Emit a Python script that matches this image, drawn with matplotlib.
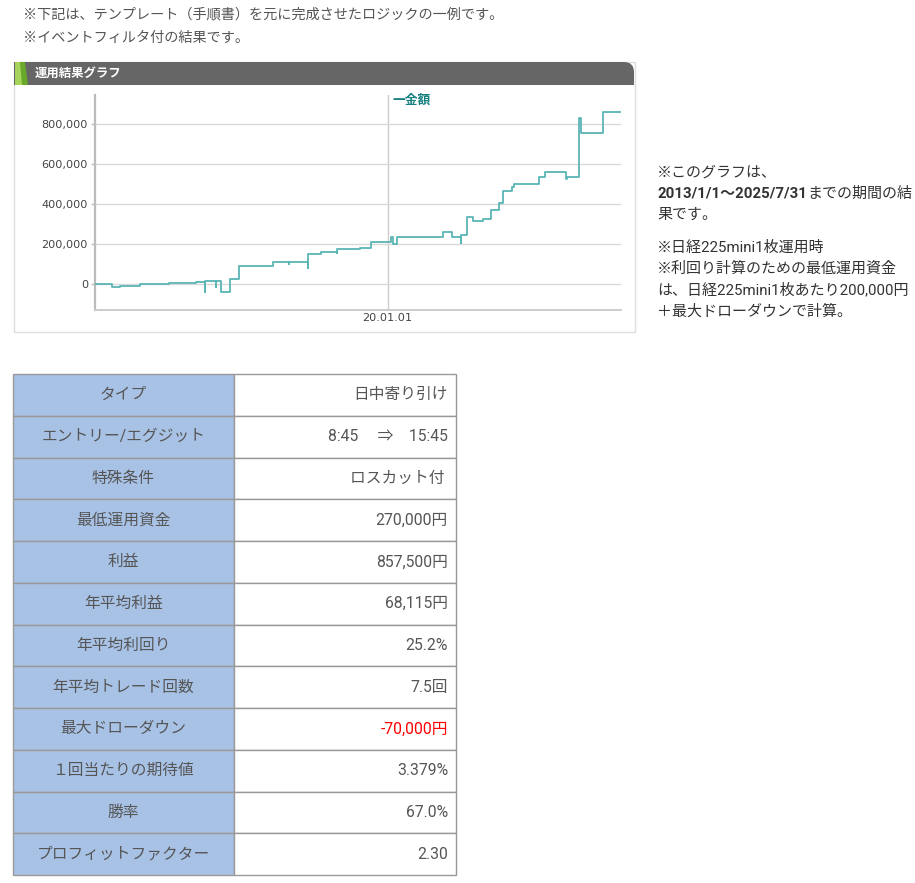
import numpy as np
import pandas as pd
import matplotlib
matplotlib.use("Agg")
import matplotlib.pyplot as plt
import matplotlib.dates as mdates
from matplotlib.patches import Rectangle, FancyBboxPatch, Polygon
from matplotlib.ticker import FuncFormatter

plt.rcParams['font.family'] = ['Roboto', 'Noto Sans CJK JP', 'DejaVu Sans']

#%% data
trade_dates = ["2013-01-01", "2013-05-26", "2013-08-07", "2014-01-28", "2014-10-08",
               "2015-06-05", "2015-08-17", "2015-08-21", "2015-11-20", "2015-11-27",
               "2016-01-05", "2016-03-28", "2016-06-08", "2017-04-05", "2017-08-18",
               "2017-08-23", "2018-02-05", "2018-02-08", "2018-05-25", "2018-10-15",
               "2018-10-19", "2019-05-06", "2019-08-07", "2020-01-29", "2020-02-20",
               "2020-03-19", "2021-04-30", "2021-07-12", "2021-10-01", "2021-10-06",
               "2021-11-22", "2022-01-14", "2022-04-11", "2022-06-20", "2022-09-01",
               "2022-10-01", "2022-12-20", "2023-01-10", "2023-08-18", "2023-10-02",
               "2024-04-11", "2024-04-15", "2024-07-26", "2024-08-15", "2025-02-28",
               "2025-07-31"]
equity = [0, -15000, -7000, 3000, 8000,
          13000, -38000, 18000, -12000, 18000,
          -38000, 26000, 93000, 111000, 101000,
          111000, 81000, 151000, 163000, 155000,
          175000, 180000, 209000, 237000, 201000,
          237000, 259000, 237000, 205000, 246000,
          334000, 317000, 324000, 371000, 404000,
          467000, 487000, 500000, 534000, 562000,
          525000, 534000, 828000, 756000, 857500,
          857500]

y_ticks = [0, 200000, 400000, 600000, 800000]
x_tick_dates = ["2020-01-01"]
x_tick_labels = ["20.01.01"]

notes_top = ["※下記は、テンプレート（手順書）を元に完成させたロジックの一例です。",
             "※イベントフィルタ付の結果です。"]

row_names = ["タイプ", "エントリー/エグジット", "特殊条件", "最低運用資金", "利益",
             "年平均利益", "年平均利回り", "年平均トレード回数", "最大ドローダウン",
             "１回当たりの期待値", "勝率", "プロフィットファクター"]
row_values = ["日中寄り引け", "8:45     ⇒    15:45", "ロスカット付 ", "270,000円", "857,500円",
              "68,115円", "25.2%", "7.5回", "-70,000円",
              "3.379%", "67.0%", "2.30"]

W, H = 915, 883
fig = plt.figure(figsize=(W / 100, H / 100), dpi=100)
fig.patch.set_facecolor('white')

# page layer in pixel coords
bg = fig.add_axes([0, 0, 1, 1], zorder=0)
bg.set_xlim(0, W)
bg.set_ylim(H, 0)
bg.axis('off')

txt_col = '#555555'
bg.text(23, 14, notes_top[0], fontsize=10.2, color=txt_col, va='center')
bg.text(23, 38, notes_top[1], fontsize=10.2, color=txt_col, va='center')

# chart box + header
bg.add_patch(Rectangle((14, 62), 621, 270, facecolor='white', edgecolor='#dddddd', lw=1))
bg.add_patch(FancyBboxPatch((14, 62), 620, 23, boxstyle="round,pad=0,rounding_size=10",
                            facecolor='#666666', edgecolor='none'))
bg.add_patch(Rectangle((14, 62), 30, 23, facecolor='#666666', edgecolor='none'))
bg.add_patch(Rectangle((14, 75), 620, 10, facecolor='#666666', edgecolor='none'))
bg.add_patch(Polygon([(15, 62), (25, 62), (28, 85), (15, 85)], closed=True,
                     facecolor='#6aa82a', edgecolor='none'))
bg.add_patch(Polygon([(15, 62), (20, 62), (22, 85), (15, 85)], closed=True,
                     facecolor='#a6d45a', edgecolor='none'))
bg.text(35, 73, "運用結果グラフ", fontsize=8.9, color='white', fontweight='bold', va='center')

# right side notes
rx = 657
rc = '#333333'
bg.text(rx, 173, "※このグラフは、", fontsize=10.8, color=rc, va='center')
t1 = bg.text(rx, 194, "2013/1/1〜2025/7/31", fontsize=10.8, color=rc, va='center',
             fontweight='bold')
bg.annotate("までの期間の結", xy=(1, 0.5), xycoords=t1, fontsize=10.8, color=rc,
            va='center', ha='left', annotation_clip=False)
bg.text(rx, 215, "果です。", fontsize=10.8, color=rc, va='center')
bg.text(rx, 248, "※日経225mini1枚運用時", fontsize=10.8, color=rc, va='center')
bg.text(rx, 269, "※利回り計算のための最低運用資金", fontsize=10.8, color=rc, va='center')
bg.text(rx, 290, "は、日経225mini1枚あたり200,000円", fontsize=10.8, color=rc, va='center')
bg.text(rx, 311, "＋最大ドローダウンで計算。", fontsize=10.8, color=rc, va='center')

# table
tx0, tx1, tx2 = 13, 234, 456
ty0, rh = 374, 41.75
for i, (name, val) in enumerate(zip(row_names, row_values)):
    y = ty0 + i * rh
    bg.add_patch(Rectangle((tx0, y), tx1 - tx0, rh, facecolor='#a8c2e6',
                           edgecolor='#999999', lw=1))
    bg.add_patch(Rectangle((tx1, y), tx2 - tx1, rh, facecolor='white',
                           edgecolor='#999999', lw=1))
    bg.text((tx0 + tx1) / 2, y + rh / 2, name, fontsize=11.3, color=txt_col,
            ha='center', va='center')
    vc = 'red' if val.startswith('-') else txt_col
    bg.text(448, y + rh / 2, val, fontsize=11.3, color=vc, ha='right', va='center')

# equity chart
x0, x1, yt, yb = 95, 621, 95, 310
ax = fig.add_axes([x0 / W, 1 - yb / H, (x1 - x0) / W, (yb - yt) / H], zorder=2)
ax.set_facecolor('none')
d = pd.to_datetime(trade_dates)
ax.plot(d, equity, drawstyle='steps-post', color='#5ab5b5', lw=1.3, zorder=3)
ax.set_xlim(pd.Timestamp("2013-01-01"), pd.Timestamp("2025-07-31"))
ax.set_ylim(-128000, 944000)
ax.set_yticks(y_ticks)
ax.yaxis.set_major_formatter(FuncFormatter(lambda v, p: f"{int(v):,}"))
ax.set_xticks(pd.to_datetime(x_tick_dates))
ax.set_xticklabels(x_tick_labels)
for lab in ax.get_yticklabels() + ax.get_xticklabels():
    lab.set_fontfamily('DejaVu Sans')
    lab.set_fontsize(8.1)
    lab.set_color('#444444')
ax.tick_params(axis='y', length=3, width=1, color='#bbbbbb', pad=2)
ax.tick_params(axis='x', length=0, pad=2)
ax.grid(axis='y', color='#d8d8d8', lw=1)
ax.grid(axis='x', color='#cccccc', lw=1)
for s in ['top', 'right']:
    ax.spines[s].set_visible(False)
ax.spines['left'].set_color('#bbbbbb')
ax.spines['left'].set_linewidth(1.6)
ax.spines['bottom'].set_color('#cccccc')
ax.spines['bottom'].set_linewidth(1.4)
ax.text(0.565, 0.975, "一金額", transform=ax.transAxes, fontsize=9.2, color='#178080',
        fontweight='bold', va='center', ha='left')

fig.savefig("out.png", dpi=100)
